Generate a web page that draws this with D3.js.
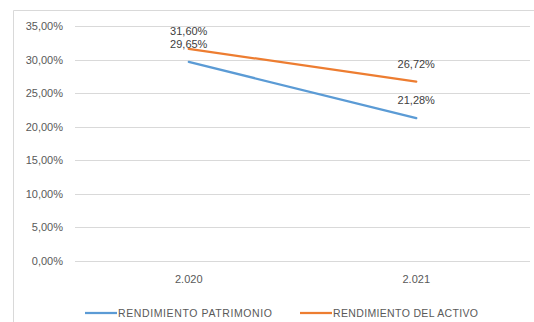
<!DOCTYPE html>
<html>
<head>
<meta charset="utf-8">
<script src="https://cdn.jsdelivr.net/npm/d3@7/dist/d3.min.js"></script>
<style>
  html, body { margin: 0; padding: 0; background: #fff; }
  svg { display: block; font-family: "Liberation Sans", Arial, sans-serif; }
</style>
</head>
<body>
<svg id="chart" width="534" height="322"></svg>
<script>
// Years on the category axis
const years = ["2.020", "2.021"];
// Return on equity and return on assets, in percent
const rendimientoPatrimonio = [29.65, 21.28];
const rendimientoActivo = [31.60, 26.72];
// Value axis ticks
const yTicks = [0, 5, 10, 15, 20, 25, 30, 35];

const series = [
  { name: "RENDIMIENTO PATRIMONIO", values: rendimientoPatrimonio, color: "#5B9BD5" },
  { name: "RENDIMIENTO DEL ACTIVO", values: rendimientoActivo, color: "#ED7D31" }
];

const svg = d3.select("#chart");
const W = 534, H = 322;
const plot = { left: 75, right: 530, top: 26, bottom: 261 };

const fmt = v => v.toFixed(2).replace(".", ",") + "%";

// Chart area frame (left and top edges visible)
svg.append("path")
  .attr("d", `M13.5,${H} V10.5 H${W}`)
  .attr("fill", "none")
  .attr("stroke", "#d9d9d9")
  .attr("stroke-width", 1);

const x = d3.scaleBand().domain(years).range([plot.left, plot.right]);
const y = d3.scaleLinear().domain([0, 35]).range([plot.bottom, plot.top]);

// Horizontal gridlines
svg.append("g")
  .selectAll("line")
  .data(yTicks)
  .join("line")
  .attr("x1", plot.left)
  .attr("x2", plot.right)
  .attr("y1", d => Math.round(y(d)) + 0.5)
  .attr("y2", d => Math.round(y(d)) + 0.5)
  .attr("stroke", "#d9d9d9")
  .attr("stroke-width", 1);

// Value axis labels
const yAxis = d3.axisLeft(y).tickValues(yTicks).tickFormat(fmt).tickSize(0).tickPadding(12);
svg.append("g")
  .attr("transform", `translate(${plot.left},0)`)
  .call(yAxis)
  .call(g => g.select(".domain").remove())
  .call(g => g.selectAll("text")
    .attr("fill", "#595959")
    .attr("font-size", "11px")
    .attr("font-family", "Liberation Sans, Arial, sans-serif"));

// Category axis labels
const xAxis = d3.axisBottom(x).tickSize(0).tickPadding(14);
svg.append("g")
  .attr("transform", `translate(0,${plot.bottom})`)
  .call(xAxis)
  .call(g => g.select(".domain").remove())
  .call(g => g.selectAll("text")
    .attr("fill", "#595959")
    .attr("font-size", "11px")
    .attr("font-family", "Liberation Sans, Arial, sans-serif"));

const cx = d => x(d) + x.bandwidth() / 2;
const line = d3.line()
  .x((v, i) => cx(years[i]))
  .y(v => y(v));

// Series lines
svg.append("g")
  .selectAll("path")
  .data(series)
  .join("path")
  .attr("d", s => line(s.values))
  .attr("fill", "none")
  .attr("stroke", s => s.color)
  .attr("stroke-width", 2.25)
  .attr("stroke-linecap", "round");

// Data labels above each point
svg.append("g")
  .selectAll("g")
  .data(series)
  .join("g")
  .selectAll("text")
  .data(s => s.values.map((v, i) => ({ v, i })))
  .join("text")
  .attr("x", d => cx(years[d.i]))
  .attr("y", d => y(d.v) - 14)
  .attr("text-anchor", "middle")
  .attr("fill", "#404040")
  .attr("font-size", "11px")
  .text(d => fmt(d.v));

// Legend
const legendItems = [
  { x: 85, w: 154, s: series[0] },
  { x: 300, w: 145, s: series[1] }
];
const lg = svg.append("g").selectAll("g").data(legendItems).join("g")
  .attr("transform", d => `translate(${d.x},313)`);
lg.append("line")
  .attr("x1", 0).attr("x2", 32)
  .attr("y1", 0).attr("y2", 0)
  .attr("stroke", d => d.s.color)
  .attr("stroke-width", 2.25);
lg.append("text")
  .attr("x", 33)
  .attr("y", 3.8)
  .attr("fill", "#595959")
  .attr("font-size", "10.5px")
  .attr("textLength", d => d.w)
  .attr("lengthAdjust", "spacing")
  .text(d => d.s.name);
</script>
</body>
</html>
